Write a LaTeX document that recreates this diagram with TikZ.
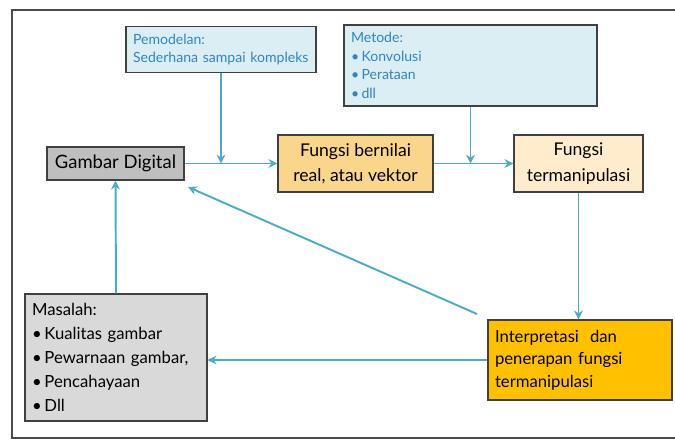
\documentclass[tikz,border=0pt]{standalone}
\usepackage{fontspec}
\setmainfont{Lato}
\usetikzlibrary{arrows.meta}

\definecolor{linkblue}{RGB}{75,172,198}
\definecolor{notefill}{RGB}{219,238,244}
\definecolor{notetext}{RGB}{49,132,198}
\definecolor{darkgrey}{RGB}{191,191,191}
\definecolor{lightgrey}{RGB}{217,217,217}
\definecolor{softorange}{RGB}{250,213,140}
\definecolor{paleorange}{RGB}{255,236,204}
\definecolor{deeporange}{RGB}{255,192,0}

\tikzset{
  box/.style={draw=black!75, line width=0.8pt, inner sep=4pt},
  note/.style={box, fill=notefill, text=notetext, align=left, font=\fontsize{8}{10.6}\selectfont},
  link/.style={draw=linkblue, line width=1.1pt, -{Stealth[length=5pt,width=5pt]}},
}

\begin{document}
\begin{tikzpicture}[x=0.02cm,y=-0.02cm]
\useasboundingbox (0,0) rectangle (675,440);
\draw[black!70, line width=1.2pt] (12,10) rectangle (678,438);

\node[note, text width=3.52cm, minimum height=0.9cm] (pem) at (221,49.5)
  {Pemodelan:\\Sederhana sampai kompleks};
\node[note, text width=4.78cm, minimum height=1.62cm] (met) at (470.5,65.5)
  {Metode:\\\textbullet\,Konvolusi\\\textbullet\,Perataan\\\textbullet\,dll};
\node[box, fill=darkgrey, minimum width=2.74cm, minimum height=0.66cm, font=\fontsize{10.5}{12}\selectfont] (gd) at (115.5,163.5)
  {Gambar Digital};
\node[box, fill=softorange, minimum width=3.1cm, minimum height=1.14cm, align=center, font=\fontsize{10}{14.5}\selectfont] (fb) at (355.5,163.5)
  {Fungsi bernilai\\real, atau vektor};
\node[box, fill=paleorange, minimum width=2.58cm, minimum height=1.14cm, align=center, font=\fontsize{10}{14.5}\selectfont] (ft) at (578.5,163.5)
  {Fungsi\\termanipulasi};
\node[box, fill=lightgrey, text width=3.36cm, minimum height=2.54cm, align=left, font=\fontsize{9.5}{13.6}\selectfont] (mas) at (116,357.5)
  {Masalah:\\\textbullet\,Kualitas gambar\\\textbullet\,Pewarnaan gambar,\\\textbullet\,Pencahayaan\\\textbullet\,Dll};
\node[box, fill=deeporange, text width=3.4cm, minimum height=1.6cm, align=left, font=\fontsize{9.5}{12.8}\selectfont] (int) at (580,360)
  {Interpretasi\ \ dan\\penerapan fungsi\\termanipulasi};

\coordinate (dstart) at (477,314);
\coordinate (dend) at (188,187);

\draw[link] (gd.east) -- (fb.west);
\draw[link] (pem.south) -- (pem.south |- gd.east);
\draw[link] (fb.east) -- (ft.west);
\draw[link] (met.south) -- (met.south |- fb.east);
\draw[link] (ft.south) -- (ft.south |- int.north);
\draw[link] (dstart) -- (dend);
\draw[link] (int.west) -- (int.west -| mas.east);
\draw[link] (mas.north) -- (gd.south);
\end{tikzpicture}
\end{document}
